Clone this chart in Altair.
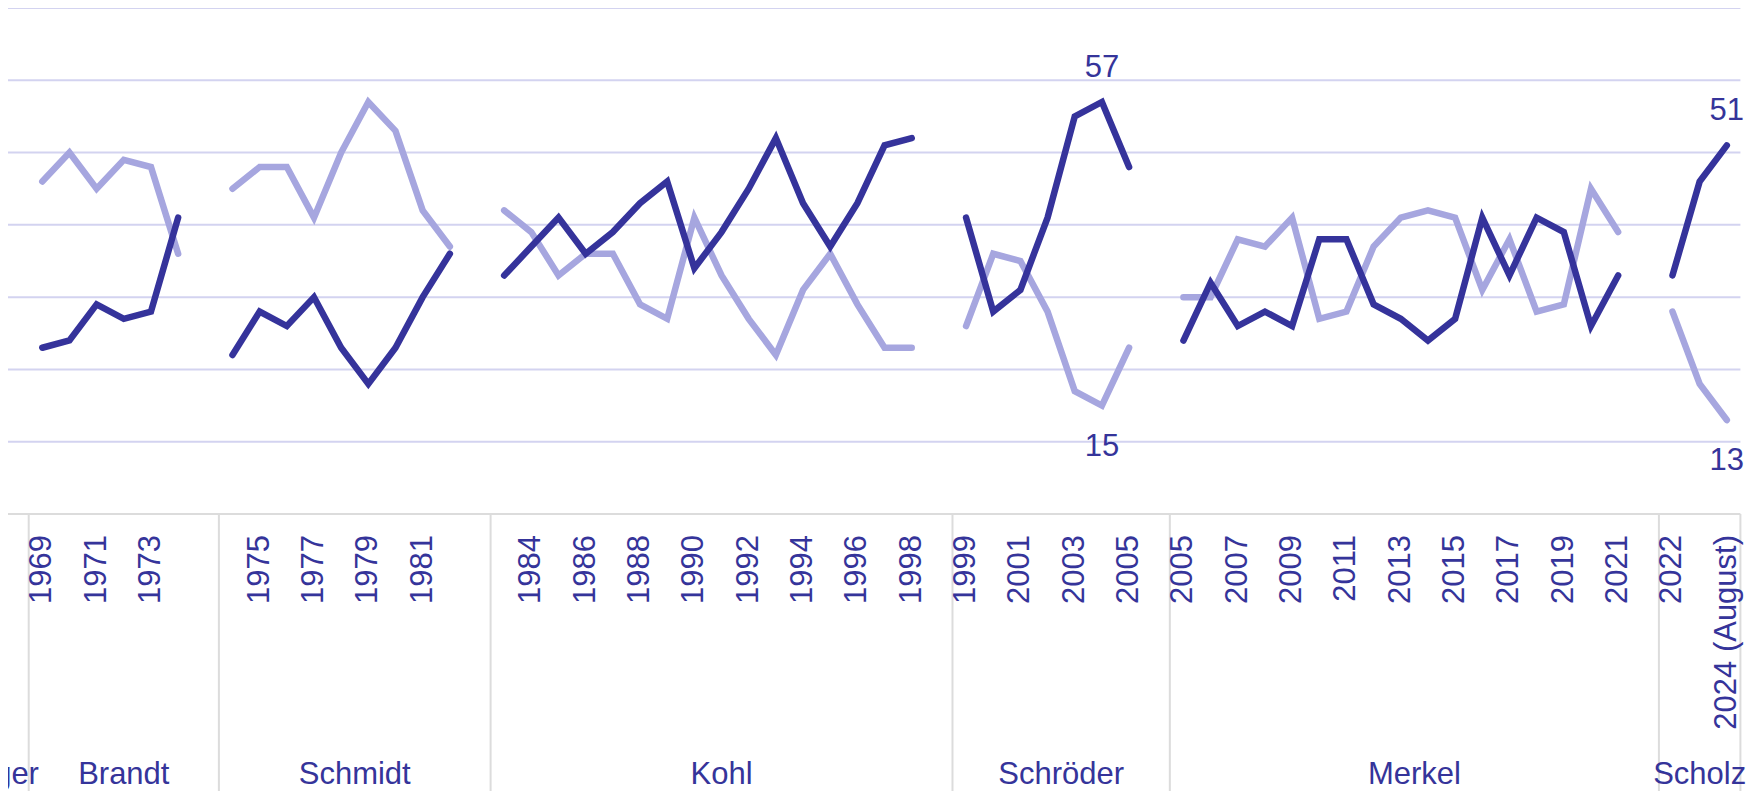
import altair as alt
import pandas as pd

# ---------------- data ----------------
chancellors = ["Kiesinger", "Brandt", "Schmidt", "Kohl", "Schröder", "Merkel", "Scholz"]

years = {
    "Kiesinger": ["1966", "1967", "1968"],
    "Brandt": ["1969", "1970", "1971", "1972", "1973", "1974"],
    "Schmidt": ["1974", "1975", "1976", "1977", "1978", "1979", "1980", "1981", "1982"],
    "Kohl": ["1983", "1984", "1985", "1986", "1987", "1988", "1989", "1990",
             "1991", "1992", "1993", "1994", "1995", "1996", "1997", "1998"],
    "Schröder": ["1999", "2000", "2001", "2002", "2003", "2004", "2005"],
    "Merkel": ["2005", "2006", "2007", "2008", "2009", "2010", "2011", "2012", "2013",
               "2014", "2015", "2016", "2017", "2018", "2019", "2020", "2021"],
    "Scholz": ["2022", "2023", "2024 (August)"],
}

dark = {
    "Brandt": [23, 24, 29, 27, 28, 41],
    "Schmidt": [22, 28, 26, 30, 23, 18, 23, 30, 36],
    "Kohl": [33, 37, 41, 36, 39, 43, 46, 34, 39, 45, 52, 43, 37, 43, 51, 52],
    "Schröder": [41, 28, 31, 41, 55, 57, 48],
    "Merkel": [24, 32, 26, 28, 26, 38, 38, 29, 27, 24, 27, 41, 33, 41, 39, 26, 33],
    "Scholz": [33, 46, 51],
}

light = {
    "Brandt": [46, 50, 45, 49, 48, 36],
    "Schmidt": [45, 48, 48, 41, 50, 57, 53, 42, 37],
    "Kohl": [42, 39, 33, 36, 36, 29, 27, 41, 33, 27, 22, 31, 36, 29, 23, 23],
    "Schröder": [26, 36, 35, 28, 17, 15, 23],
    "Merkel": [30, 30, 38, 37, 41, 27, 28, 37, 41, 42, 41, 31, 38, 28, 29, 45, 39],
    "Scholz": [28, 18, 13],
}

tick_labels = {
    "Brandt": ["1969", "1971", "1973"],
    "Schmidt": ["1975", "1977", "1979", "1981"],
    "Kohl": ["1984", "1986", "1988", "1990", "1992", "1994", "1996", "1998"],
    "Schröder": ["1999", "2001", "2003", "2005"],
    "Merkel": ["2005", "2007", "2009", "2011", "2013", "2015", "2017", "2019", "2021"],
    "Scholz": ["2022", "2024 (August)"],
}

annot_chancellor = ["Schröder", "Schröder", "Scholz", "Scholz"]
annot_year = ["2004", "2004", "2024 (August)", "2024 (August)"]
annot_series = ["dark", "light", "dark", "light"]

y_grid = [10, 20, 30, 40, 50, 60, 70]
y_base = [0]

# ---------------- style ----------------
DARK = "#35339b"
LIGHT = "#a6a6df"
TEXT = "#35349a"
GRID = "#d3d3f0"
AXIS = "#dcdcdc"
FONT = "Liberation Sans"
FS = 31
STEP = 27.17          # pixels per year slot
LEFT_CUT = 0.762      # slots of the first visible panel cut at the left edge
PLOT_H = 506
LW = 6.5

# ---------------- layout from data ----------------
line_rows, group_rows, sep_rows, tick_rows = [], [], [], []
pos_lookup = {}
slot = 0.0
for i, name in enumerate(chancellors):
    yrs = years[name]
    left = slot
    right = left + len(yrs)
    last = i == len(chancellors) - 1
    cell_right = right if last else right + 1
    group_rows.append({"chancellor": name, "pos": (left + cell_right) / 2})
    sep_rows.append({"pos": left})
    if last:
        sep_rows.append({"pos": right})
    for j, yr in enumerate(yrs):
        p = left + j + 0.5
        pos_lookup[(name, yr)] = p
        if name in dark:
            line_rows.append({"chancellor": name, "year": yr, "pos": p,
                              "series": "dark", "value": dark[name][j]})
            line_rows.append({"chancellor": name, "year": yr, "pos": p,
                              "series": "light", "value": light[name][j]})
    for yr in tick_labels.get(name, []):
        tick_rows.append({"label": yr, "pos": pos_lookup[(name, yr)]})
    slot = cell_right

lines = pd.DataFrame(line_rows)
groups = pd.DataFrame(group_rows)
seps = pd.DataFrame(sep_rows)
ticks = pd.DataFrame(tick_rows)
grid_df = pd.DataFrame({"value": y_grid})
base_df = pd.DataFrame({"value": y_base})

ann_rows = []
for c, yr, s in zip(annot_chancellor, annot_year, annot_series):
    r = lines[(lines.chancellor == c) & (lines.year == yr) & (lines.series == s)].iloc[0]
    ann_rows.append({"pos": r.pos, "value": r.value, "series": s, "text": str(int(r.value))})
ann = pd.DataFrame(ann_rows)

first_visible_left = seps.pos.iloc[1]
x_min = first_visible_left - LEFT_CUT
x_max = seps.pos.iloc[-1]
PLOT_W = STEP * (x_max - x_min)

xscale = alt.Scale(domain=[x_min, x_max], nice=False, zero=False)
yscale = alt.Scale(domain=[0, 70], nice=False, zero=True)

X = alt.X("pos:Q", scale=xscale, axis=None)
Y = alt.Y("value:Q", scale=yscale, axis=None)

grid = alt.Chart(grid_df).mark_rule(color=GRID, strokeWidth=2).encode(
    y=Y, x=alt.value(0), x2=alt.value(PLOT_W)
)

baseline = alt.Chart(base_df).mark_rule(color=AXIS, strokeWidth=2).encode(
    y=Y, x=alt.value(0), x2=alt.value(PLOT_W)
)

light_line = alt.Chart(lines).transform_filter(alt.datum.series == "light").mark_line(
    color=LIGHT, strokeWidth=LW, strokeCap="round"
).encode(x=X, y=Y, detail="chancellor:N", order="pos:Q")

dark_line = alt.Chart(lines).transform_filter(alt.datum.series == "dark").mark_line(
    color=DARK, strokeWidth=LW, strokeCap="round"
).encode(x=X, y=Y, detail="chancellor:N", order="pos:Q")

separators = alt.Chart(seps).mark_rule(color=AXIS, strokeWidth=2).encode(
    x=X, y=alt.value(PLOT_H), y2=alt.value(PLOT_H + 300)
)

year_text = alt.Chart(ticks).mark_text(
    angle=270, align="right", baseline="middle", font=FONT, fontSize=FS, color=TEXT
).encode(x=X, y=alt.value(PLOT_H + 21), text="label:N")

group_text = alt.Chart(groups).mark_text(
    align="center", baseline="alphabetic", font=FONT, fontSize=FS, color=TEXT
).encode(x=X, y=alt.value(PLOT_H + 270), text="chancellor:N")

ann_top = alt.Chart(ann).transform_filter(alt.datum.series == "dark").mark_text(
    align="center", baseline="alphabetic", dy=-25, font=FONT, fontSize=FS, color=TEXT
).encode(x=X, y=Y, text="text:N")

ann_bottom = alt.Chart(ann).transform_filter(alt.datum.series == "light").mark_text(
    align="center", baseline="alphabetic", dy=50, font=FONT, fontSize=FS, color=TEXT
).encode(x=X, y=Y, text="text:N")

chart = alt.layer(
    grid, baseline, separators, light_line, dark_line,
    year_text, group_text, ann_top, ann_bottom
).properties(
    width=PLOT_W, height=PLOT_H,
    autosize=alt.AutoSizeParams(type="none"),
    padding={"left": 0, "top": 0, "right": 6, "bottom": 280},
).configure(background="white").configure_view(strokeWidth=0)

chart.save("out.html", embed_options={"renderer": "svg", "actions": False})
